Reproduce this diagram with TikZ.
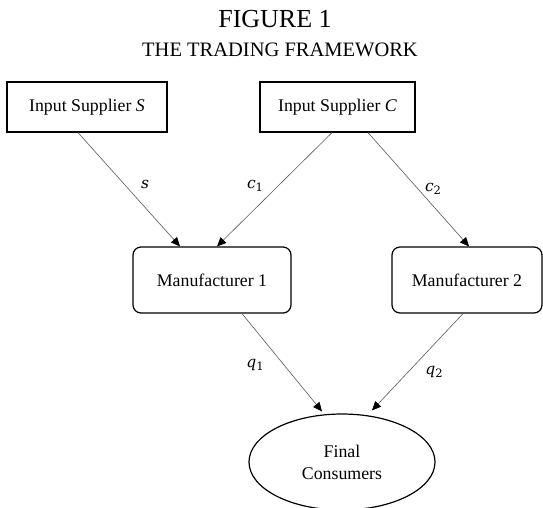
\documentclass[tikz,border=0pt]{standalone}
\usepackage{fontspec}
\setmainfont{Liberation Serif}
\newfontfamily\labfont{DejaVu Serif}
\usetikzlibrary{shapes.geometric,arrows.meta}
\newcommand{\lsym}[2]{{\labfont\fontsize{15.5}{18}\selectfont\itshape #1\raisebox{-0.35ex}{\fontsize{11.5}{12}\selectfont\upshape #2}}}
\begin{document}
\begin{tikzpicture}[x=1pt,y=-1pt,
  every node/.style={font=\fontsize{17.8}{22}\selectfont},
  sqbox/.style={draw,line width=1.2pt,inner sep=0pt},
  rbox/.style={draw,line width=1.2pt,rounded corners=8pt,inner sep=0pt},
  oval/.style={draw,ellipse,line width=1.2pt,inner sep=0pt,align=center},
  flow/.style={draw=black!65,line width=0.6pt,-{Triangle[length=9pt,width=8pt,color=black]}}]
\useasboundingbox (0,0) rectangle (543,507);
\node (t1) at (275,19) {\fontsize{26}{30}\selectfont FIGURE 1};
\node (t2) at (280,50) {\fontsize{20.5}{24}\selectfont THE TRADING FRAMEWORK};
\node[sqbox,minimum width=160pt,minimum height=50pt] (S) at (87,107) {Input Supplier \textit{S}};
\node[sqbox,minimum width=155pt,minimum height=50pt] (C) at (337.5,107) {Input Supplier \textit{C}};
\node[rbox,minimum width=158pt,minimum height=66pt] (M1) at (212,280) {Manufacturer 1};
\node[rbox,minimum width=150pt,minimum height=66pt] (M2) at (467,280) {Manufacturer 2};
\node[oval,minimum width=186pt,minimum height=96pt] (F) at (342,462) {Final\\Consumers};
\draw[flow] ([xshift=-9pt]S.south) -- ([xshift=-32pt]M1.north);
\draw[flow] ([xshift=-5.5pt]C.south) -- ([xshift=5pt]M1.north);
\draw[flow] ([xshift=30.5pt]C.south) -- ([xshift=2pt]M2.north);
\draw[flow] ([xshift=30pt]M1.south) -- ([xshift=-20pt,yshift=2pt]F.north);
\draw[flow] ([xshift=-4pt]M2.south) -- ([xshift=30pt,yshift=3pt]F.north);
\node (ls) at (145,186) {\lsym{s}{}};
\node (lc1) at (255,186) {\lsym{c}{1}};
\node (lc2) at (433,189) {\lsym{c}{2}};
\node (lq1) at (255,365) {\lsym{q}{1}};
\node (lq2) at (434,372) {\lsym{q}{2}};
\end{tikzpicture}
\end{document}
